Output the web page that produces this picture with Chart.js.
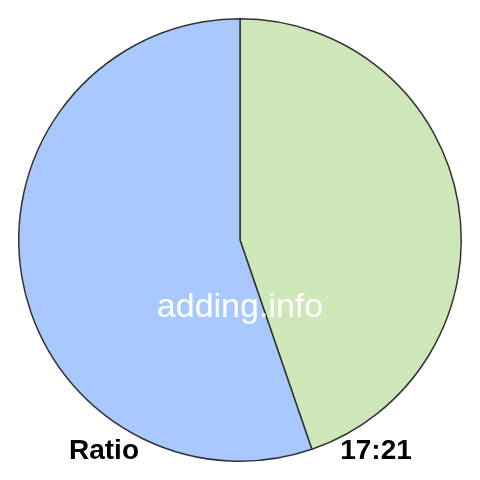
<!DOCTYPE html>
<html>
<head>
<meta charset="utf-8">
<script src="https://cdn.jsdelivr.net/npm/chart.js@4"></script>
<style>
html,body{margin:0;padding:0;background:#fff;}
#wrap{width:480px;height:480px;position:relative;}
</style>
</head>
<body>
<div id="wrap"><canvas id="c" width="480" height="480"></canvas></div>
<script>
const categories = ["17", "21"];
const values = [17, 21];
const colors = ["#cde7b9", "#a9c8fd"];
const ratioLabel = "Ratio";
const ratioText = "17:21";
const watermark = "adding.info";

const textPlugin = {
  id: 'texts',
  afterDatasetsDraw(chart) {
    const ctx = chart.ctx;
    ctx.save();
    ctx.fillStyle = '#ffffff';
    ctx.font = '34px "Liberation Sans", Arial, sans-serif';
    ctx.textAlign = 'center';
    ctx.textBaseline = 'alphabetic';
    ctx.fillText(watermark, 240, 317);
    ctx.fillStyle = '#000000';
    ctx.font = 'bold 28px "Liberation Sans", Arial, sans-serif';
    ctx.fillText(ratioLabel, 104, 459);
    ctx.fillText(ratioText, 376, 459);
    ctx.restore();
  }
};

new Chart(document.getElementById('c'), {
  type: 'pie',
  data: {
    labels: categories,
    datasets: [{
      data: values,
      backgroundColor: colors,
      borderColor: '#333333',
      borderWidth: 1.5
    }]
  },
  options: {
    responsive: false,
    animation: false,
    layout: { padding: 18 },
    plugins: {
      legend: { display: false },
      tooltip: { enabled: false }
    }
  },
  plugins: [textPlugin]
});
</script>
</body>
</html>
